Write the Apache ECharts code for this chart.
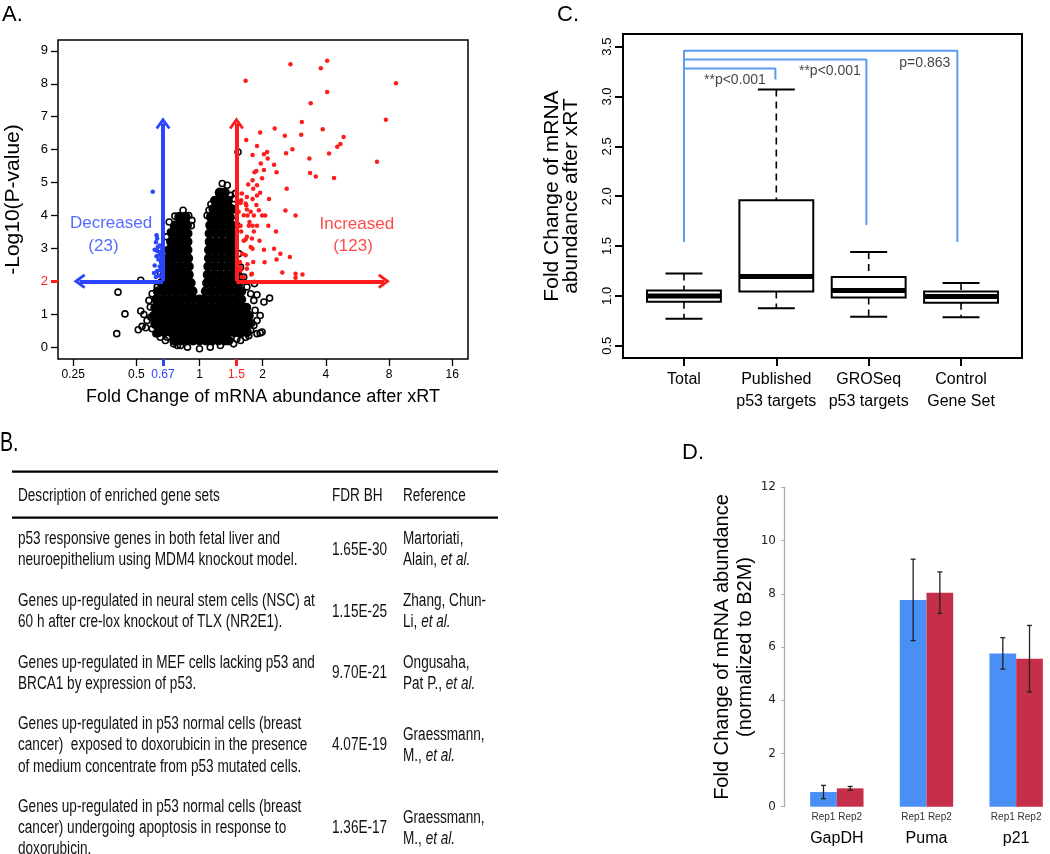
<!DOCTYPE html>
<html><head><meta charset="utf-8">
<script src="https://cdn.jsdelivr.net/npm/echarts@6/dist/echarts.min.js"></script>
<style>html,body{margin:0;padding:0;background:#fff}#c{width:1050px;height:854px}</style>
</head><body><div id="c"></div>
<script>
// ---------------- Panel A : volcano plot (x = log2 fold change, y = -log10 p) ----------------
const aXTickLabels = ['0.25','0.5','0.67','1','1.5','2','4','8','16'];
const aYTicks = [0,1,2,3,4,5,6,7,8,9];
const aFoldCutDown = 0.67, aFoldCutUp = 1.5, aPCut = 2, aArrowTop = 7;
// dense core of non-significant genes: [ -log10 p, [log2 FC ...] ]
const aBlackDenseRows = [
 [0.20, [-0.40,-0.30,-0.20,-0.10,0.00,0.10,0.20,0.30,0.40,0.46]],
 [0.45, [-0.65,-0.55,-0.45,-0.35,-0.25,-0.15,-0.05,0.05,0.15,0.25,0.35,0.45,0.55,0.65,0.75]],
 [0.70, [-0.70,-0.60,-0.50,-0.40,-0.30,-0.20,-0.10,0.00,0.10,0.20,0.30,0.40,0.50,0.60,0.70,0.78]],
 [0.95, [-0.72,-0.62,-0.52,-0.42,-0.32,-0.22,-0.12,-0.02,0.08,0.18,0.28,0.38,0.48,0.58,0.68,0.78]],
 [1.20, [-0.70,-0.60,-0.50,-0.40,-0.30,-0.20,-0.10,0.00,0.10,0.20,0.30,0.40,0.50,0.60,0.70,0.74]],
 [1.45, [-0.68,-0.58,-0.48,-0.38,-0.28,-0.18,-0.09,0.00,0.08,0.18,0.28,0.38,0.48,0.58,0.66]],
 [1.70, [-0.66,-0.56,-0.46,-0.36,-0.26,-0.16,-0.11,0.10,0.20,0.30,0.40,0.50,0.60,0.66]],
 [1.95, [-0.60,-0.50,-0.40,-0.30,-0.20,-0.14,0.12,0.22,0.32,0.42,0.52,0.62]],
 [2.20, [-0.55,-0.45,-0.35,-0.25,-0.17,0.13,0.23,0.33,0.43,0.53,0.60]],
 [2.45, [-0.52,-0.42,-0.32,-0.22,-0.17,0.14,0.24,0.34,0.44,0.53]],
 [2.70, [-0.50,-0.40,-0.30,-0.20,-0.18,0.15,0.25,0.35,0.45,0.53]],
 [2.95, [-0.48,-0.38,-0.28,-0.19,0.15,0.25,0.35,0.45,0.53]],
 [3.20, [-0.45,-0.35,-0.25,-0.19,0.16,0.26,0.36,0.46,0.52]],
 [3.45, [-0.43,-0.33,-0.23,-0.19,0.16,0.26,0.36,0.46,0.51]],
 [3.70, [-0.38,-0.28,-0.20,0.17,0.27,0.37,0.47,0.51]],
 [3.95, [-0.32,-0.22,0.18,0.28,0.38,0.48]],
 [4.20, [0.22,0.32,0.42,0.50]],
 [4.45, [0.25,0.35,0.45]],
 [4.70, [0.32,0.40]]
];
// scattered (open circle) non-significant genes: [log2 FC, -log10 p]
const aBlackOpen = [
 [-1.31,0.41],[-1.29,1.67],[-1.18,1.01],[-0.97,0.53],[-0.93,1.10],[-0.88,0.99],[-0.93,2.03],[-0.91,0.63],
 [-0.85,0.59],[-0.83,0.81],[1.11,1.49],[1.02,1.37],[0.91,1.59],[0.87,1.93],[0.96,0.96],[0.86,0.66],
 [0.78,0.35],[0.96,0.43],[0.99,0.46],[0.91,0.41],[0.75,0.96],[0.83,0.73],[0.61,5.93],[0.36,4.97],
 [0.44,4.92],[0.31,4.67],[-0.41,0.10],[-0.30,0.05],[-0.67,0.41],[-0.51,0.30],[0.59,0.25],[0.73,0.51],
 [-0.39,3.98],[-0.33,3.98],[-0.26,4.16],[-0.22,4.00],[-0.17,4.00],[-0.12,3.85],[-0.48,3.80],[-0.41,3.67],
 [-0.19,3.69],[-0.13,3.69],[-0.52,3.35],[-0.46,3.50],
 [0.18,4.34],[0.23,4.46],[0.49,4.61],[0.54,4.51],[0.57,4.67],[0.15,4.16],[0.12,4.00],[0.23,4.00],[0.54,4.00],[0.59,3.70],
 [-0.58,2.59],[-0.62,2.23],[-0.67,1.83],[-0.75,1.62],[-0.80,1.42],[-0.78,1.22],[-0.77,0.91],[-0.75,0.56],
 [-0.69,0.41],[-0.62,0.30],[-0.54,0.20],
 [0.62,2.84],[0.65,2.43],[0.70,2.13],[0.75,1.83],[0.81,1.62],[0.86,1.42],[0.88,1.12],[0.91,0.81],
 [0.81,0.51],[0.73,0.30],[0.65,0.20],[0.54,0.10],
 [-0.19,0.00],[0.00,-0.05],[0.17,0.00],[0.33,0.05],[-0.35,0.05]
];
// significantly increased genes
const aUp = [
 [0.73,8.09],[1.44,8.59],[1.92,8.47],[2.02,8.70],[3.11,8.02],[2.02,7.75],[1.76,7.41],[2.95,6.91],[1.62,6.84],
 [1.19,6.64],[1.95,6.62],[0.96,6.52],[1.35,6.42],[1.61,6.45],[0.74,6.29],[2.28,6.38],[2.23,6.17],[2.18,6.09],
 [0.91,6.11],[1.47,6.01],[1.07,5.93],[1.02,5.86],[0.84,5.84],[1.37,5.89],[2.05,5.88],[1.08,5.73],[1.74,5.73],
 [2.81,5.63],[0.97,5.58],[1.18,5.54],[1.02,5.38],[0.90,5.35],[0.87,5.31],[1.22,5.31],[1.75,5.29],[1.84,5.18],
 [2.13,5.14],[0.99,5.13],[0.84,5.07],[0.77,4.94],[0.91,4.92],[0.85,4.81],[1.38,4.81],[0.96,4.69],[0.67,4.67],
 [0.75,4.56],[0.91,4.61],[1.10,4.50],[0.84,4.50],[0.66,4.46],[0.73,4.36],[0.90,4.32],[0.75,4.18],[0.94,4.16],
 [1.36,4.15],[0.70,4.01],[0.76,4.00],[0.86,4.00],[0.99,4.00],[1.04,4.00],[1.52,4.00],[0.79,3.80],[0.65,3.69],
 [0.78,3.69],[0.84,3.69],[0.91,3.69],[1.09,3.69],[0.66,3.51],[0.86,3.51],[1.21,3.51],[0.75,3.35],[0.95,3.23],
 [0.70,3.23],[0.81,3.04],[1.02,2.96],[0.84,2.99],[1.18,2.99],[0.68,2.84],[1.28,2.84],[0.73,2.79],[1.43,2.74],
 [1.22,2.66],[0.64,2.59],[0.85,2.59],[1.03,2.58],[0.76,2.52],[0.75,2.38],[1.31,2.27],[1.63,2.21],[1.52,2.23],
 [0.82,2.21],[0.65,2.33],[1.52,2.11],[0.67,2.13],[0.62,4.11],[0.81,4.11],[0.73,3.27],[0.83,3.30],[0.65,2.43],
 [0.83,2.23],[0.70,2.13],[0.74,4.31],[0.65,4.38]
];
// significantly decreased genes
const aDown = [
 [-0.74,4.72],[-0.68,3.40],[-0.67,3.30],[-0.69,3.19],[-0.63,3.09],[-0.71,2.96],[-0.67,2.92],[-0.62,2.89],
 [-0.64,2.79],[-0.59,2.72],[-0.65,2.66],[-0.61,2.59],[-0.71,2.48],[-0.63,2.45],[-0.67,2.31],[-0.72,2.25],
 [-0.61,2.35],[-0.64,2.18],[-0.69,2.13],[-0.59,2.13],[-0.66,3.04],[-0.59,2.99],[-0.68,2.76]
];
const aLabels = [
 {name:'Decreased', value:[-1.40,3.76], side:'down'},
 {name:'(23)', value:[-1.52,3.05], side:'down'},
 {name:'Increased', value:[2.49,3.74], side:'up'},
 {name:'(123)', value:[2.43,3.05], side:'up'}
];
// arrow ends: [log2 FC, -log10 p], arrow direction
const aArrowTipsDown = [[-1.90, 2], [Math.log2(0.67), 6.8]];
const aArrowTipsUp = [[2.92, 2], [Math.log2(1.5), 6.8]];

// ---------------- Panel B : table ----------------
const bHeader = ['Description of enriched gene sets', 'FDR BH', 'Reference'];
const bDesc = [
 ['p53 responsive genes in both fetal liver and', 'neuroepithelium using MDM4 knockout model.'],
 ['Genes up-regulated in neural stem cells (NSC) at', '60 h after cre-lox knockout of TLX (NR2E1).'],
 ['Genes up-regulated in MEF cells lacking p53 and', 'BRCA1 by expression of p53.'],
 ['Genes up-regulated in p53 normal cells (breast', 'cancer)  exposed to doxorubicin in the presence', 'of medium concentrate from p53 mutated cells.'],
 ['Genes up-regulated in p53 normal cells (breast', 'cancer) undergoing apoptosis in response to', 'doxorubicin.']
];
const bFDR = ['1.65E-30', '1.15E-25', '9.70E-21', '4.07E-19', '1.36E-17'];
const bRef = [
 ['Martoriati,', 'Alain, {i|et al.}'],
 ['Zhang, Chun-', 'Li, {i|et al.}'],
 ['Ongusaha,', 'Pat P., {i|et al.}'],
 ['Graessmann,', 'M., {i|et al.}'],
 ['Graessmann,', 'M., {i|et al.}']
];

// ---------------- Panel C : box plots ----------------
const cCategories = ['Total', 'Published\np53 targets', 'GROSeq\np53 targets', 'Control\nGene Set'];
const cLow  = [0.77, 0.875, 0.79, 0.785];
const cQ1   = [0.94, 1.045, 0.985, 0.93];
const cMed  = [1.00, 1.195, 1.055, 0.995];
const cQ3   = [1.055, 1.96, 1.19, 1.045];
const cHigh = [1.225, 3.07, 1.44, 1.13];
const cYTicks = [0.5, 1.0, 1.5, 2.0, 2.5, 3.0, 3.5];
const cBrackets = [
 [[1,1.54],[1,3.46],[3.96,3.46],[3.96,1.54]],
 [[1,3.37],[2.975,3.37],[2.975,1.71]],
 [[1,3.28],[1.99,3.28],[1.99,3.17]]
];
const cBracketLabels = [
 {name:'**p<0.001', value:[1.552,3.166]},
 {name:'**p<0.001', value:[2.58,3.25]},
 {name:'p=0.863', value:[3.608,3.333]}
];

// ---------------- Panel D : qPCR bars ----------------
const dCategories = ['GapDH', 'Puma', 'p21'];
const dRep1 = [0.55, 7.77, 5.76];
const dRep1Err = [0.25, 1.53, 0.59];
const dRep2 = [0.69, 8.04, 5.56];
const dRep2Err = [0.07, 0.78, 1.25];

// ======================================================================
const FONT = "'Liberation Sans', Arial, sans-serif";
const BLUE = '#2b45ff', RED = '#ff1c1c';
const chevron = 'path://M0,10 L6,0 L12,10 L10.2,11.6 L6,4.8 L1.8,11.6 Z';
const aXTickValues = aXTickLabels.map(s => Math.log2(parseFloat(s)));
const near = (a, b) => Math.abs(a - b) < 1e-6;
function labelFor(v) {
  v = Number(v); let bi = 0, bd = 1e9;
  aXTickValues.forEach((x, i) => { const d = Math.abs(x - v); if (d < bd) { bd = d; bi = i; } });
  return aXTickLabels[bi];
}
const xDown = Math.log2(aFoldCutDown), xUp = Math.log2(aFoldCutUp);
const aDense = aBlackDenseRows.flatMap(([p, xs]) => xs.map(x => [x, p]));
const arrowRot = (tip, base) => tip[1] !== aPCut ? 0 : (tip[0] < base ? 90 : -90);

function renderBox(params, api) {
  const x = api.value(0);
  const P = v => api.coord([x, v]);
  const lo = P(api.value(1)), q1 = P(api.value(2)), md = P(api.value(3)), q3 = P(api.value(4)), hi = P(api.value(5));
  const hw = api.size([0.4, 0])[0], cw = api.size([0.2, 0])[0];
  const cx = lo[0];
  const dash = {stroke:'#000', lineWidth:1.6, lineDash:[7,5]};
  const solid = {stroke:'#000', lineWidth:2};
  return {type:'group', children:[
    {type:'line', shape:{x1:cx,y1:hi[1],x2:cx,y2:q3[1]}, style:dash},
    {type:'line', shape:{x1:cx,y1:q1[1],x2:cx,y2:lo[1]}, style:dash},
    {type:'line', shape:{x1:cx-cw,y1:hi[1],x2:cx+cw,y2:hi[1]}, style:solid},
    {type:'line', shape:{x1:cx-cw,y1:lo[1],x2:cx+cw,y2:lo[1]}, style:solid},
    {type:'rect', shape:{x:cx-hw,y:q3[1],width:2*hw,height:q1[1]-q3[1]}, style:{fill:'#fff',stroke:'#000',lineWidth:2}},
    {type:'line', shape:{x1:cx-hw,y1:md[1],x2:cx+hw,y2:md[1]}, style:{stroke:'#000',lineWidth:5}}
  ]};
}
const BAR_W = 26.7;
function errRenderer(sign) {
  return function (params, api) {
    const a = api.coord([api.value(0), api.value(1)]);
    const b = api.coord([api.value(0), api.value(2)]);
    const x = a[0] + sign * BAR_W / 2;
    const st = {stroke:'#222', lineWidth:1.3};
    return {type:'group', children:[
      {type:'line', shape:{x1:x,y1:a[1],x2:x,y2:b[1]}, style:st},
      {type:'line', shape:{x1:x-2.5,y1:a[1],x2:x+2.5,y2:a[1]}, style:st},
      {type:'line', shape:{x1:x-2.5,y1:b[1],x2:x+2.5,y2:b[1]}, style:st}
    ]};
  };
}

// ---- table graphics ----
const graphics = [];
const TFONT = 18, TSCALE = 0.755, TCOL = '#111';
function tText(x, y, text) {
  graphics.push({type:'text', x:x, y:y, scaleX:TSCALE, silent:true, style:{
    text:text, fontSize:TFONT, fontFamily:FONT, fill:TCOL, textAlign:'left', textVerticalAlign:'middle',
    rich:{i:{fontStyle:'italic', fontSize:TFONT, fontFamily:FONT, fill:TCOL}}
  }});
}
const colX = [18, 332, 403];
graphics.push({type:'line', silent:true, shape:{x1:12,y1:471.7,x2:498,y2:471.7}, style:{stroke:'#000', lineWidth:2.2}});
graphics.push({type:'line', silent:true, shape:{x1:12,y1:517.7,x2:498,y2:517.7}, style:{stroke:'#000', lineWidth:2.2}});
bHeader.forEach((h, i) => tText(colX[i], 496, h));
let rowY = 539.3; const LH = 21.1, RGAP = 19.5;
bDesc.forEach((lines, r) => {
  const n = lines.length;
  lines.forEach((t, k) => tText(colX[0], rowY + k * LH, t));
  const mid = rowY + (n - 1) * LH / 2;
  tText(colX[1], mid, bFDR[r]);
  const refs = bRef[r];
  refs.forEach((t, k) => tText(colX[2], mid + (k - (refs.length - 1) / 2) * LH, t));
  rowY += n * LH + RGAP;
});
// panel letters
graphics.push({type:'text', x:2, y:4, silent:true, style:{text:'A.', fontSize:22, fontFamily:FONT, fill:'#000'}});
graphics.push({type:'text', x:557, y:4, silent:true, style:{text:'C.', fontSize:22, fontFamily:FONT, fill:'#000'}});
graphics.push({type:'text', x:0, y:429, scaleX:0.7, silent:true, style:{text:'B.', fontSize:28, fontFamily:FONT, fill:'#000'}});
graphics.push({type:'text', x:682, y:442, silent:true, style:{text:'D.', fontSize:22, fontFamily:FONT, fill:'#000'}});

const noSplit = {show:false};
const hideLine = {show:false, onZero:false};
const option = {
  animation:false,
  backgroundColor:'#fff',
  textStyle:{fontFamily:FONT},
  graphic:{elements:graphics},
  grid:[
    {left:58, top:40, width:410, height:319, show:true, borderColor:'#000', borderWidth:1.5, outerBoundsMode:'none'},
    {left:623, top:34, width:399, height:324, show:true, borderColor:'#000', borderWidth:2, outerBoundsMode:'none'},
    {left:792, top:487.3, width:269, height:319.4, show:false, outerBoundsMode:'none'}
  ],
  xAxis:[
    {gridIndex:0, type:'value', position:'bottom', min:-2.24, max:4.25, splitLine:noSplit, axisLine:hideLine,
     axisTick:{show:true, customValues:aXTickValues, length:7, lineStyle:{color:'#000', width:1.3}},
     axisLabel:{customValues:aXTickValues, formatter:labelFor, fontSize:12, margin:10,
       color:v => near(Number(v), xDown) ? BLUE : (near(Number(v), xUp) ? RED : '#000')},
     name:'Fold Change of mRNA abundance after xRT', nameLocation:'middle', nameGap:29,
     nameTextStyle:{fontSize:18, color:'#000'}},
    {gridIndex:1, type:'value', position:'bottom', min:0.34, max:4.66, splitLine:noSplit, axisLine:hideLine,
     axisTick:{show:true, customValues:[1,2,3,4], length:8, lineStyle:{color:'#000', width:2}},
     axisLabel:{customValues:[1,2,3,4], formatter:v => cCategories[Math.round(Number(v)) - 1],
       fontSize:16, lineHeight:22, margin:11, color:'#000'}},
    {gridIndex:2, type:'category', data:dCategories, axisLine:hideLine, axisTick:{show:false},
     axisLabel:{fontSize:16, margin:24, color:'#000'}},
    {gridIndex:0, type:'value', position:'bottom', min:-2.24, max:4.25, splitLine:noSplit, axisLine:hideLine,
     axisTick:{show:true, customValues:[xDown], length:7, lineStyle:{color:BLUE, width:3}}, axisLabel:{show:false}},
    {gridIndex:0, type:'value', position:'bottom', min:-2.24, max:4.25, splitLine:noSplit, axisLine:hideLine,
     axisTick:{show:true, customValues:[xUp], length:7, lineStyle:{color:RED, width:3}}, axisLabel:{show:false}}
  ],
  yAxis:[
    {gridIndex:0, type:'value', position:'left', min:-0.36, max:9.33, splitLine:noSplit, axisLine:hideLine,
     axisTick:{show:true, customValues:aYTicks, length:7, lineStyle:{color:'#000', width:1.3}},
     axisLabel:{customValues:aYTicks, fontSize:13, margin:10, color:v => Number(v) === aPCut ? RED : '#000'},
     name:'-Log10(P-value)', nameLocation:'middle', nameGap:34, nameTextStyle:{fontSize:21, color:'#000'}},
    {gridIndex:1, type:'value', position:'left', min:0.377, max:3.627, splitLine:noSplit, axisLine:hideLine,
     axisTick:{show:true, customValues:cYTicks, length:8, lineStyle:{color:'#000', width:2}},
     axisLabel:{customValues:cYTicks, rotate:90, fontSize:13, margin:9, color:'#000', formatter:v => Number(v).toFixed(1)},
     name:'Fold Change of mRNA\nabundance after xRT', nameLocation:'middle', nameGap:42,
     nameTextStyle:{fontSize:21, lineHeight:19, color:'#000'}},
    {gridIndex:2, type:'value', position:'left', offset:8, min:0, max:12, interval:2, splitLine:noSplit,
     axisLine:{show:true, onZero:false, lineStyle:{color:'#9fb1b5', width:1.3}},
     axisTick:{show:true, length:3, lineStyle:{color:'#9fb1b5'}},
     axisLabel:{fontFamily:"'DejaVu Sans', sans-serif", fontSize:12, margin:8, color:'#222'},
     name:'Fold Change of mRNA abundance\n(normalized to B2M)', nameLocation:'middle', nameGap:22,
     nameTextStyle:{fontSize:20, lineHeight:23, color:'#000'}},
    {gridIndex:0, type:'value', position:'left', min:-0.36, max:9.33, splitLine:noSplit, axisLine:hideLine,
     axisTick:{show:true, customValues:[aPCut], length:7, lineStyle:{color:RED, width:3}}, axisLabel:{show:false}}
  ],
  series:[
    {type:'scatter', xAxisIndex:0, yAxisIndex:0, data:aDense, symbolSize:10, silent:true,
     itemStyle:{color:'#000', opacity:1}},
    {type:'scatter', xAxisIndex:0, yAxisIndex:0, data:aBlackOpen, symbolSize:6, silent:true,
     itemStyle:{color:'rgba(255,255,255,0)', borderColor:'#000', borderWidth:1.6, opacity:1}},
    {type:'scatter', xAxisIndex:0, yAxisIndex:0, data:aDown, symbolSize:4.5, silent:true, itemStyle:{color:BLUE, opacity:1}},
    {type:'scatter', xAxisIndex:0, yAxisIndex:0, data:aUp, symbolSize:4.5, silent:true, itemStyle:{color:RED, opacity:1}},
    {type:'line', xAxisIndex:0, yAxisIndex:0, data:[], silent:true,
     markLine:{silent:true, symbol:['none','none'], label:{show:false},
       lineStyle:{color:BLUE, width:4, type:'solid'}, emphasis:{disabled:true},
       data:aArrowTipsDown.map(t => [{coord:[xDown, aPCut]}, {coord:t}])}},
    {type:'line', xAxisIndex:0, yAxisIndex:0, data:[], silent:true,
     markLine:{silent:true, symbol:['none','none'], label:{show:false},
       lineStyle:{color:RED, width:4, type:'solid'}, emphasis:{disabled:true},
       data:aArrowTipsUp.map(t => [{coord:[xUp, aPCut]}, {coord:t}])}},
    {type:'scatter', xAxisIndex:0, yAxisIndex:0, silent:true, z:6, symbol:chevron, symbolSize:[15,12],
     data:aArrowTipsDown.map(t => ({value:t, symbolRotate:arrowRot(t, xDown)})), itemStyle:{color:BLUE, opacity:1}},
    {type:'scatter', xAxisIndex:0, yAxisIndex:0, silent:true, z:6, symbol:chevron, symbolSize:[15,12],
     data:aArrowTipsUp.map(t => ({value:t, symbolRotate:arrowRot(t, xUp)})), itemStyle:{color:RED, opacity:1}},
    {type:'scatter', xAxisIndex:0, yAxisIndex:0, symbolSize:0, silent:true, z:10,
     data:aLabels.map(d => ({name:d.name, value:d.value,
       label:{show:true, position:'inside', formatter:'{b}', fontSize:17, color:d.side === 'up' ? RED : BLUE}}))},
    {type:'custom', xAxisIndex:1, yAxisIndex:1, renderItem:renderBox, silent:true,
     encode:{x:0, y:[1,2,3,4,5]},
     data:cCategories.map((c, i) => [i + 1, cLow[i], cQ1[i], cMed[i], cQ3[i], cHigh[i]])},
    ...cBrackets.map(b => ({type:'line', xAxisIndex:1, yAxisIndex:1, data:b, showSymbol:false, symbol:'none',
       silent:true, lineStyle:{color:'#5b9cf2', width:2}})),
    {type:'scatter', xAxisIndex:1, yAxisIndex:1, symbolSize:0, silent:true,
     data:cBracketLabels.map(d => ({name:d.name, value:d.value})),
     label:{show:true, position:'inside', formatter:'{b}', fontSize:14, color:'#111'}},
    {type:'bar', name:'Rep1', xAxisIndex:2, yAxisIndex:2, data:dRep1, barWidth:BAR_W, barGap:'0%', silent:true,
     itemStyle:{color:'#4a8ff5'}, label:{show:true, position:'bottom', distance:6, formatter:'{a}', fontSize:10, color:'#333'}},
    {type:'bar', name:'Rep2', xAxisIndex:2, yAxisIndex:2, data:dRep2, barWidth:BAR_W, barGap:'0%', silent:true,
     itemStyle:{color:'#c52f4a'}, label:{show:true, position:'bottom', distance:6, formatter:'{a}', fontSize:10, color:'#333'}},
    {type:'custom', xAxisIndex:2, yAxisIndex:2, renderItem:errRenderer(-1), silent:true, z:5, encode:{x:0, y:[1,2]},
     data:dCategories.map((c, i) => [i, dRep1[i] - dRep1Err[i], dRep1[i] + dRep1Err[i]])},
    {type:'custom', xAxisIndex:2, yAxisIndex:2, renderItem:errRenderer(1), silent:true, z:5, encode:{x:0, y:[1,2]},
     data:dCategories.map((c, i) => [i, dRep2[i] - dRep2Err[i], dRep2[i] + dRep2Err[i]])}
  ]
};
const chart = echarts.init(document.getElementById('c'), null, {renderer:'canvas', width:1050, height:854});
chart.setOption(option);
</script></body></html>
